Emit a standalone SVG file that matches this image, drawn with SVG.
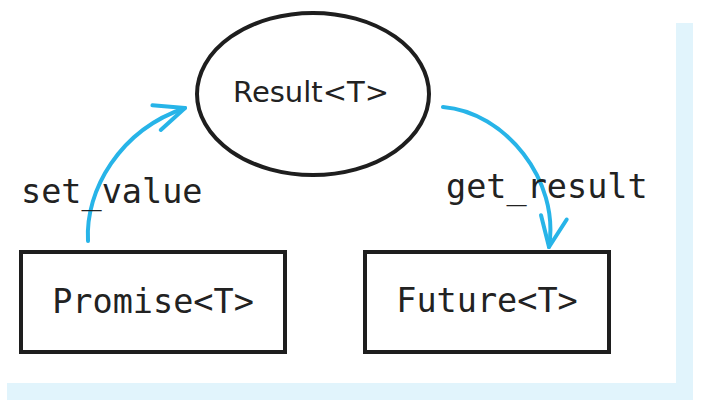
<svg xmlns="http://www.w3.org/2000/svg" width="702" height="409" viewBox="0 0 702 409">
<style>
.box{fill:#fff;stroke:#1e1e1e;stroke-width:4}
.mono{font-family:"DejaVu Sans Mono","Liberation Mono",monospace;font-size:33.5px;fill:#222}
.sans{font-family:"DejaVu Sans","Liberation Sans",sans-serif;font-size:29px;fill:#222}
.edge{fill:none;stroke:#27b4e8;stroke-width:4;stroke-linecap:round}
</style>
<defs>
<marker id="arr" markerUnits="userSpaceOnUse" markerWidth="50" markerHeight="50" refX="0" refY="0" viewBox="-40 -25 50 50" orient="auto" overflow="visible">
<path d="M-30,-13 L0,0 L-30,13" fill="none" stroke="#27b4e8" stroke-width="4" stroke-linecap="round" stroke-linejoin="round"/>
</marker>
</defs>
<rect x="0" y="0" width="702" height="409" fill="#fff"/>
<rect x="7" y="23" width="686" height="377" fill="#e1f4fc"/>
<rect x="0" y="0" width="676" height="383" fill="#fff"/>
<g id="result">
<ellipse class="box" cx="313" cy="94" rx="116" ry="81"/>
<text class="sans" x="311" y="102" text-anchor="middle">Result&lt;T&gt;</text>
</g>
<g id="promise">
<rect class="box" x="21" y="252" width="264" height="100"/>
<text class="mono" x="153" y="313" text-anchor="middle">Promise&lt;T&gt;</text>
</g>
<g id="future">
<rect class="box" x="365" y="252" width="244" height="100"/>
<text class="mono" x="487" y="312" text-anchor="middle">Future&lt;T&gt;</text>
</g>
<g id="connectors">
<path class="edge" d="M88,241 C85,190 120,130 185,108" marker-end="url(#arr)"/>
<text class="mono" x="21" y="203">set_value</text>
<path class="edge" d="M443,107 C505,112 560,180 549,247" marker-end="url(#arr)"/>
<text class="mono" x="446" y="198">get_result</text>
</g>
</svg>
